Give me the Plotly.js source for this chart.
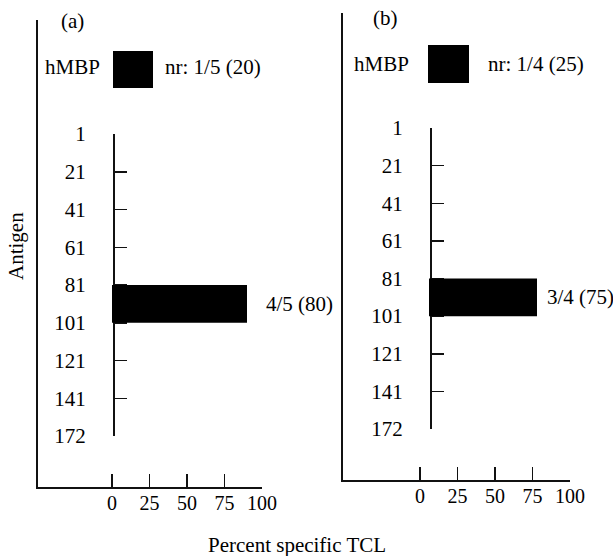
<!DOCTYPE html>
<html>
<head>
<meta charset="utf-8">
<script src="https://cdn.plot.ly/plotly-3.0.1.min.js"></script>
<style>html,body{margin:0;padding:0;background:#fff;}#chart{width:613px;height:556px;}</style>
</head>
<body>
<div id="chart"></div>
<script>
// ---- data ----
var antigenLabels = ['1', '21', '41', '61', '81', '101', '121', '141', '172'];
var xTicks = [0, 25, 50, 75, 100];
var panelNames = ['(a)', '(b)'];
var wholeProtein = 'hMBP';
var nrLabels = ['nr: 1/5 (20)', 'nr: 1/4 (25)'];
var barStart = ['81', '81'];
var barEnd = ['101', '101'];
var barBase = [0, 6];
var barValues = [90, 78];
var barLabels = ['4/5 (80)', '3/4 (75)'];
var xTitle = 'Percent specific TCL';
var yTitle = 'Antigen';

// ---- layout helpers (pixels -> paper) ----
var W = 613, H = 556;
function px(x) { return x / W; }
function py(y) { return 1 - y / H; }
var FONT = 'Liberation Serif';
var FS = 21;
var LINE = '#111';
function f(s) { return { family: FONT, size: s || FS, color: '#000' }; }

var tickIdx = antigenLabels.map(function (_, i) { return i; });

// panel geometry (pixels)
var panels = [
  { outerX: 38, outerTop: 20, bottom: 487, zeroX: 112, hundredX: 262, innerTop: 134, innerBot: 436,
    labelY: 21, labelX: 72, rowY: 67, hmbpX: 43, sq: [113, 51, 153, 88], nrX: 163, barLabelShift: 17 },
  { outerX: 343, outerTop: 13, bottom: 480, zeroX: 420, hundredX: 570, innerTop: 128, innerBot: 429,
    labelY: 18, labelX: 385, rowY: 64, hmbpX: 352, sq: [428, 45, 469, 83], nrX: 486, barLabelShift: 8 }
];

var data = [];
var layout = {
  width: W, height: H,
  margin: { l: 0, r: 0, t: 0, b: 0 },
  paper_bgcolor: '#fff', plot_bgcolor: 'rgba(0,0,0,0)',
  showlegend: false,
  font: f(),
  shapes: [], annotations: []
};

panels.forEach(function (p, k) {
  var xa = k === 0 ? 'xaxis' : 'xaxis2';
  var xr = k === 0 ? 'x' : 'x2';
  var ya = k === 0 ? 'yaxis' : 'yaxis2';
  var yr = k === 0 ? 'y' : 'y2';
  var yia = k === 0 ? 'yaxis3' : 'yaxis4';
  var yir = k === 0 ? 'y3' : 'y4';
  var unit = (p.hundredX - p.zeroX) / 100;
  var xmin = -(p.zeroX - p.outerX) / unit;

  layout[xa] = {
    domain: [px(p.outerX), px(p.hundredX)], range: [xmin, 100], anchor: yr,
    showline: true, linecolor: LINE, linewidth: 2,
    ticks: 'inside', ticklen: 13, tickwidth: 1.5, tickcolor: LINE,
    tickvals: xTicks, ticktext: xTicks.map(String), ticklabelstandoff: -3,
    showgrid: false, zeroline: false, fixedrange: true,
    tickfont: f(20)
  };
  layout[ya] = {
    domain: [py(p.bottom), py(p.outerTop)], range: [0, 1], anchor: xr,
    showline: true, linecolor: LINE, linewidth: 2,
    ticks: '', showticklabels: false, showgrid: false, zeroline: false, fixedrange: true
  };
  layout[yia] = {
    domain: [py(p.innerBot), py(p.innerTop)], range: [antigenLabels.length - 1, 0],
    anchor: 'free', position: px(p.zeroX + barBase[k] * unit + 1), side: 'left', layer: 'below traces',
    showline: true, linecolor: LINE, linewidth: 1.5,
    ticks: 'inside', ticklen: 12, tickwidth: 1.5, tickcolor: LINE,
    tickvals: tickIdx, ticktext: antigenLabels, ticklabelstandoff: 23,
    showgrid: false, zeroline: false, fixedrange: true,
    tickfont: f()
  };

  // empty trace so the outer frame subplot exists
  data.push({ type: 'scatter', mode: 'markers', xaxis: xr, yaxis: yr, x: [], y: [], hoverinfo: 'skip' });

  var i0 = antigenLabels.indexOf(barStart[k]);
  var i1 = antigenLabels.indexOf(barEnd[k]);
  data.push({
    type: 'bar', orientation: 'h', xaxis: xr, yaxis: yir,
    y: [(i0 + i1) / 2], x: [barValues[k] - barBase[k]], width: [i1 - i0], base: [barBase[k]],
    marker: { color: '#000', line: { width: 0 } }, hoverinfo: 'skip'
  });
  layout.annotations.push({
    xref: xr, yref: yir, x: barValues[k], y: (i0 + i1) / 2, xanchor: 'left', yanchor: 'middle',
    xshift: p.barLabelShift, text: barLabels[k], showarrow: false, font: f()
  });

  // header row
  layout.annotations.push({
    xref: 'paper', yref: 'paper', x: px(p.labelX), y: py(p.labelY), xanchor: 'center', yanchor: 'middle',
    text: panelNames[k], showarrow: false, font: f()
  });
  layout.annotations.push({
    xref: 'paper', yref: 'paper', x: px(p.hmbpX), y: py(p.rowY), xanchor: 'left', yanchor: 'middle',
    text: wholeProtein, showarrow: false, font: f()
  });
  layout.annotations.push({
    xref: 'paper', yref: 'paper', x: px(p.nrX), y: py(p.rowY), xanchor: 'left', yanchor: 'middle',
    text: nrLabels[k], showarrow: false, font: f()
  });
  layout.shapes.push({
    type: 'rect', xref: 'paper', yref: 'paper',
    x0: px(p.sq[0]), x1: px(p.sq[2]), y0: py(p.sq[3]), y1: py(p.sq[1]),
    fillcolor: '#000', line: { width: 0 }
  });
});

layout.annotations.push({
  xref: 'paper', yref: 'paper', x: px(297), y: py(545), xanchor: 'center', yanchor: 'middle',
  text: xTitle, showarrow: false, font: f()
});
layout.annotations.push({
  xref: 'paper', yref: 'paper', x: px(16), y: py(246), xanchor: 'center', yanchor: 'middle',
  text: yTitle, textangle: -90, showarrow: false, font: f()
});

Plotly.newPlot('chart', data, layout, { displayModeBar: false, staticPlot: true });
</script>
</body>
</html>
